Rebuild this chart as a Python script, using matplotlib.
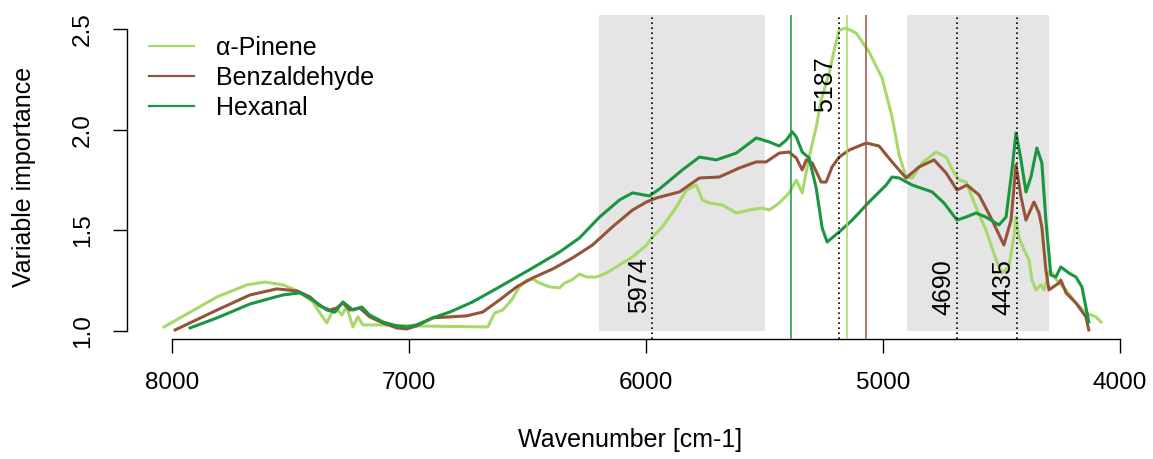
import numpy as np
import matplotlib
matplotlib.use("Agg")
import matplotlib.pyplot as plt
from matplotlib.lines import Line2D

plt.rcParams['font.family'] = ['Liberation Sans', 'DejaVu Sans']

# traced curves (wavenumber, variable importance)
pinene_x = [8034, 7810, 7684, 7608, 7532, 7461, 7406, 7376, 7347, 7326, 7300, 7284, 7263, 7250,
            7237, 7216, 7195, 7111, 6984, 6668, 6639, 6605, 6567, 6534, 6504, 6479, 6449, 6407,
            6365, 6344, 6314, 6281, 6251, 6209, 6167, 6112, 6057, 5998, 5973, 5931, 5872, 5830,
            5788, 5762, 5733, 5678, 5619, 5564, 5510, 5480, 5438, 5396, 5366, 5341, 5312, 5282,
            5261, 5227, 5206, 5185, 5156, 5113, 5059, 5004, 4962, 4932, 4903, 4877, 4835, 4776,
            4734, 4700, 4679, 4650, 4608, 4566, 4523, 4498, 4469, 4448, 4439, 4427, 4405, 4384,
            4372, 4355, 4334, 4321, 4300, 4288, 4258, 4228, 4186, 4144, 4102, 4081]
pinene_y = [1.020, 1.169, 1.229, 1.243, 1.229, 1.194, 1.144, 1.089, 1.040, 1.089, 1.104, 1.079,
            1.119, 1.070, 1.020, 1.070, 1.030, 1.030, 1.025, 1.020, 1.089, 1.104, 1.154, 1.219,
            1.253, 1.258, 1.238, 1.219, 1.214, 1.238, 1.253, 1.283, 1.268, 1.268, 1.288, 1.328,
            1.368, 1.427, 1.467, 1.517, 1.616, 1.700, 1.725, 1.651, 1.636, 1.626, 1.586, 1.601,
            1.611, 1.601, 1.636, 1.686, 1.750, 1.686, 1.864, 2.013, 2.148, 2.282, 2.396, 2.495,
            2.505, 2.480, 2.386, 2.257, 2.063, 1.874, 1.765, 1.760, 1.835, 1.889, 1.864, 1.785,
            1.750, 1.740, 1.616, 1.502, 1.353, 1.288, 1.318, 1.467, 1.566, 1.467, 1.402, 1.353,
            1.253, 1.204, 1.229, 1.204, 1.293, 1.288, 1.238, 1.204, 1.139, 1.089, 1.070, 1.045]

benz_x = [7987, 7810, 7671, 7558, 7473, 7418, 7376, 7334, 7305, 7279, 7250, 7208, 7166, 7111,
          7052, 7010, 6968, 6900, 6828, 6757, 6689, 6618, 6546, 6479, 6394, 6310, 6226, 6142,
          6057, 5998, 5956, 5859, 5775, 5691, 5606, 5535, 5493, 5438, 5396, 5366, 5341, 5324,
          5299, 5261, 5240, 5215, 5185, 5143, 5071, 5017, 4962, 4903, 4848, 4785, 4734, 4688,
          4646, 4595, 4540, 4490, 4460, 4439, 4418, 4397, 4363, 4342, 4330, 4313, 4300, 4258,
          4250, 4228, 4186, 4144, 4132]
benz_y = [1.005, 1.104, 1.179, 1.209, 1.199, 1.169, 1.124, 1.104, 1.114, 1.139, 1.104, 1.114,
          1.070, 1.040, 1.015, 1.010, 1.025, 1.065, 1.070, 1.075, 1.094, 1.154, 1.219, 1.263,
          1.308, 1.363, 1.427, 1.517, 1.601, 1.641, 1.661, 1.691, 1.760, 1.765, 1.810, 1.840,
          1.840, 1.884, 1.889, 1.859, 1.800, 1.850, 1.835, 1.740, 1.740, 1.815, 1.864, 1.899,
          1.934, 1.919, 1.840, 1.760, 1.815, 1.850, 1.785, 1.700, 1.725, 1.676, 1.551, 1.427,
          1.551, 1.825, 1.666, 1.551, 1.641, 1.586, 1.517, 1.303, 1.204, 1.238, 1.253, 1.189,
          1.139, 1.070, 1.005]

hex_x = [7924, 7810, 7671, 7532, 7461, 7406, 7347, 7313, 7279, 7237, 7199, 7166, 7111, 7052,
         7010, 6968, 6900, 6828, 6732, 6618, 6479, 6365, 6281, 6196, 6112, 6057, 5986, 5944,
         5847, 5775, 5703, 5619, 5535, 5480, 5438, 5408, 5383, 5366, 5341, 5312, 5282, 5257,
         5236, 5185, 5130, 5059, 4987, 4962, 4932, 4877, 4793, 4743, 4688, 4650, 4608, 4566,
         4511, 4481, 4456, 4439, 4418, 4397, 4376, 4351, 4330, 4313, 4292, 4271, 4250, 4216,
         4186, 4161, 4132]
hex_y = [1.015, 1.065, 1.134, 1.179, 1.189, 1.154, 1.104, 1.094, 1.144, 1.104, 1.119, 1.079,
         1.045, 1.025, 1.020, 1.030, 1.065, 1.094, 1.144, 1.219, 1.313, 1.392, 1.462, 1.566,
         1.651, 1.686, 1.671, 1.705, 1.800, 1.864, 1.850, 1.884, 1.959, 1.939, 1.919, 1.949,
         1.989, 1.964, 1.889, 1.859, 1.710, 1.512, 1.442, 1.492, 1.551, 1.641, 1.725, 1.765,
         1.760, 1.725, 1.691, 1.636, 1.551, 1.566, 1.586, 1.566, 1.527, 1.566, 1.800, 1.984,
         1.850, 1.691, 1.765, 1.909, 1.835, 1.551, 1.278, 1.268, 1.318, 1.288, 1.268, 1.219,
         1.045]

labels = ['\u03b1-Pinene', 'Benzaldehyde', 'Hexanal']
colors = ['#a6d96a', '#95543a', '#1a9641']

# shaded regions and marked wavenumbers
regions = [(6200, 5500), (4900, 4300)]
marked = [5974, 5187, 4690, 4435]
marked_label_y = [1.089, 2.088, 1.079, 1.079]
optimum = [5150, 5070, 5390]  # pinene, benzaldehyde, hexanal

fig = plt.figure(figsize=(11.53, 4.59), dpi=100)
ax = fig.add_axes([127 / 1153, 120 / 459, 1 - 127 / 1153, 324 / 459])
ax.set_xlim(8190, 3861)
ax.set_ylim(0.96, 2.57)

for lo, hi in regions:
    ax.fill_between([hi, lo], 1.0, 2.57, color='#e5e5e5', lw=0, zorder=0)

for xs, ys, c in zip([pinene_x, benz_x, hex_x], [pinene_y, benz_y, hex_y], colors):
    ax.plot(xs, ys, color=c, lw=2.2, zorder=2, solid_joinstyle='round')

for xv, c in zip(optimum, colors):
    ax.axvline(xv, color=c, lw=1.1, zorder=3)

for xv, yv in zip(marked, marked_label_y):
    ax.axvline(xv, color='black', lw=1.2, ls=(0, (1, 2)), zorder=3)
    ax.annotate(str(xv), (xv, yv), xytext=(-1, 0), textcoords='offset points',
                rotation=90, ha='right', va='bottom', fontsize=18)

for s in ['top', 'right']:
    ax.spines[s].set_visible(False)
ax.spines['left'].set_bounds(1.0, 2.5)
ax.spines['bottom'].set_bounds(4000, 8000)
ax.spines['left'].set_linewidth(1.0)
ax.spines['bottom'].set_linewidth(1.0)
ax.set_xticks([8000, 7000, 6000, 5000, 4000])
ax.set_yticks([1.0, 1.5, 2.0, 2.5])
ax.set_yticklabels(['1.0', '1.5', '2.0', '2.5'], rotation=90, va='center')
ax.tick_params(direction='out', length=10, width=1.0, labelsize=17.5, pad=14)

fig.text(630 / 1153, 1 - 440 / 459, 'Wavenumber [cm-1]', ha='center', va='center', fontsize=18)
fig.text(24 / 1153, 1 - 177 / 459, 'Variable importance', ha='center', va='center',
         rotation=90, fontsize=18)

handles = [Line2D([], [], color=c, lw=1.6) for c in colors]
ax.legend(handles, labels, loc='upper left', bbox_to_anchor=(0.009, 0.975), frameon=False,
          fontsize=18, handlelength=1.8, handletextpad=0.9, labelspacing=0.24, borderpad=0)

fig.savefig('out.png', dpi=100)
